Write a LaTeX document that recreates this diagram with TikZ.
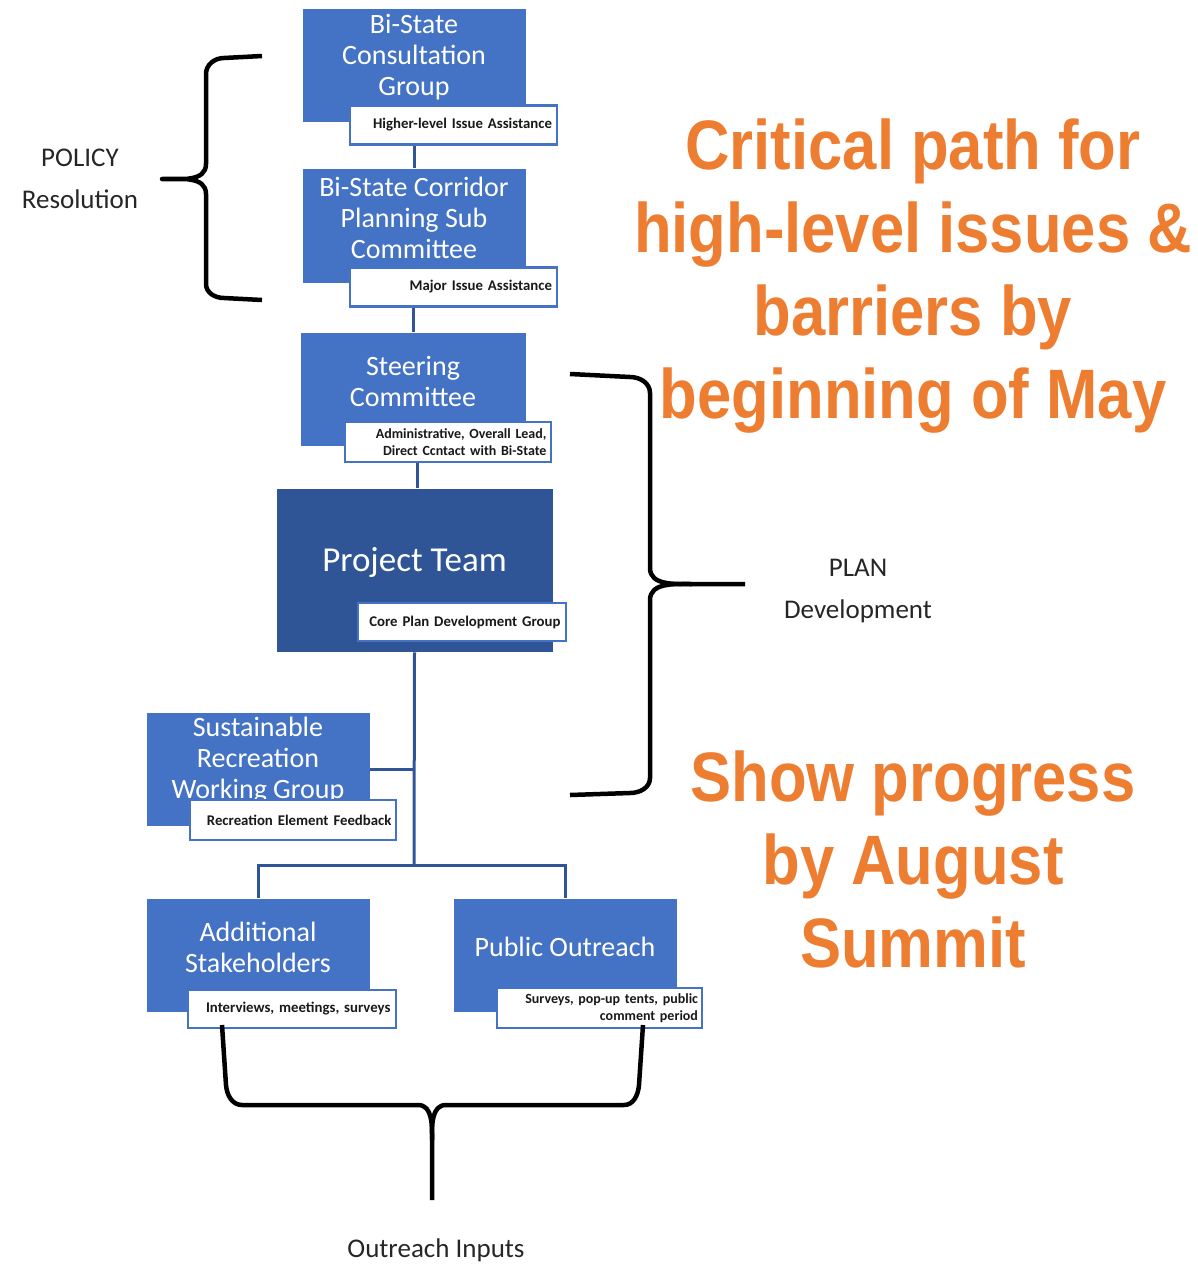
\documentclass[tikz,border=0pt]{standalone}
\usepackage{fontspec}
\setmainfont{Carlito}
\newfontfamily\calloutfont{Liberation Sans}[FakeStretch=0.88]
\usetikzlibrary{positioning}
\definecolor{unitblue}{HTML}{4472C4}
\definecolor{teamblue}{HTML}{2F5597}
\definecolor{linkblue}{HTML}{2F5597}
\definecolor{calloutorange}{HTML}{ED7D31}

\begin{document}
\begin{tikzpicture}[x=1pt,y=-1pt,
  unit/.style={fill=unitblue, draw=white, line width=0.8pt, minimum width=224pt, minimum height=114pt, inner sep=0pt},
  unittext/.style={text=white, align=center, font=\fontsize{28}{31}\selectfont},
  tag/.style={draw=unitblue, line width=2.4pt, fill=white, inner sep=0pt, minimum width=207pt, minimum height=39pt, text width=197pt, align=right, text=black!90, font=\bfseries\fontsize{14.8}{17}\selectfont},
  link/.style={draw=linkblue, line width=3pt},
  brace/.style={line width=4.5pt, line join=round},
  note/.style={align=center, text=black!85, font=\fontsize{27}{42}\selectfont},
  callout/.style={align=center, text=calloutorange, font=\calloutfont\bfseries\fontsize{70}{83}\selectfont}]
\useasboundingbox (0,0) rectangle (1198,1264);

\node[unit, label={[unittext,yshift=8pt]center:Bi-State\\Consultation\\Group}] (bscg) at (414,65) {};
\node[tag] (bscg-tag) at (453.5,125) {Higher-level Issue Assistance};

\node[unit, minimum height=115pt, label={[unittext,yshift=8pt]center:Bi-State Corridor\\Planning Sub\\Committee}] (bscp) at (414,225.5) {};
\node[tag] (bscp-tag) at (453.5,287) {Major Issue Assistance};

\node[unit, minimum width=226pt, label={[unittext,yshift=8pt]center:Steering\\Committee}] (steer) at (413,389) {};
\node[tag, minimum width=206pt, minimum height=40pt, font=\bfseries\fontsize{14}{17}\selectfont] (steer-tag) at (448,442) {Administrative, Overall Lead,\\Direct Ccntact with Bi-State};

\node[unit, fill=teamblue, minimum width=277pt, minimum height=164pt, label={[unittext,yshift=8pt,font=\fontsize{35}{40}\selectfont]center:Project Team}] (team) at (414.5,570) {};
\node[tag, minimum width=208pt, minimum height=38pt] (team-tag) at (462,622) {Core Plan Development Group};

\node[unit, label={[unittext,yshift=9pt]center:Sustainable\\Recreation\\Working Group}] (srwg) at (258,769) {};
\node[tag, minimum width=206pt, minimum height=40pt] (srwg-tag) at (293,820) {Recreation Element Feedback};

\node[unit, label={[unittext,yshift=8pt]center:Additional\\Stakeholders}] (stake) at (258,955) {};
\node[tag, minimum width=208pt, minimum height=38pt] (stake-tag) at (292,1009) {Interviews, meetings, surveys};

\node[unit, label={[unittext,yshift=8pt]center:Public Outreach}] (public) at (565,955) {};
\node[tag, minimum width=205pt, minimum height=40pt, font=\bfseries\fontsize{14}{17}\selectfont] (public-tag) at (599.5,1008) {Surveys, pop-up tents, public\\comment period};

\coordinate (split) at (414,865);
\draw[link] (bscp.north) -- (bscp.north |- bscg-tag.south);
\draw[link] (steer.north) -- (steer.north |- bscp-tag.south);
\draw[link] ([xshift=3pt]team.north) -- ([xshift=3pt]team.north |- steer-tag.south);
\draw[link] (team.south) -- (split);
\draw[link] (srwg.east) -- (srwg.east -| split);
\draw[link] (stake.north) |- (split) -| (public.north);

\node[note] (policy) at (80,179) {POLICY\\Resolution};
\node[note] (plan) at (858,591) {PLAN\\Development};
\node[note, font=\fontsize{27}{32}\selectfont] (inputs) at (436,1250) {Outreach Inputs};

\draw[brace] (262,56) -- (224,58) to[out=180,in=90] (206,74) -- (206,164) to[out=-90,in=0] (162,179) to[out=0,in=90] (206,194) -- (206,284) to[out=-90,in=180] (224,298) -- (262,300);
\draw[brace] (570,374) -- (630,377) to[out=0,in=90] (650,393) -- (650,568) to[out=-90,in=180] (692,584) -- (745,584);
\draw[brace] (692,584) to[out=180,in=90] (650,600) -- (650,778) to[out=-90,in=0] (630,793) -- (570,795);
\draw[brace] (222,1025) -- (226,1085) to[out=-85,in=180] (242,1105) -- (418,1105) to[out=0,in=90] (432,1140) -- (432,1200);
\draw[brace] (643,1025) -- (639,1085) to[out=-95,in=0] (624,1105) -- (446,1105) to[out=180,in=90] (432,1140);

\node[callout] (critical) at (913,276) {Critical path for\\high-level issues \&\\barriers by\\beginning of May};
\node[callout] (progress) at (913,859) {Show progress\\by August\\Summit};
\end{tikzpicture}
\end{document}
